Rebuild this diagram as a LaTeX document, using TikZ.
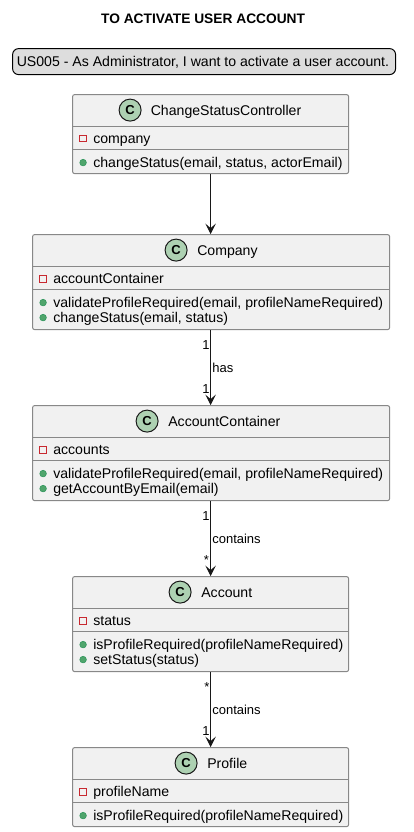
\documentclass[tikz,border=0pt]{standalone}
\usepackage{fontspec}
\setmainfont{Liberation Sans}
\usetikzlibrary{arrows.meta}
\definecolor{boxfill}{HTML}{F1F1F1}
\definecolor{boxline}{HTML}{888888}
\definecolor{spotfill}{HTML}{ADD1B2}
\definecolor{darkline}{HTML}{181818}
\definecolor{privred}{HTML}{C82930}
\definecolor{pubfill}{HTML}{84BE84}
\definecolor{publine}{HTML}{038048}
\definecolor{legendfill}{HTML}{DDDDDD}
\tikzset{
  x=1pt,y=-1pt,
  classbox/.style={draw=boxline,fill=boxfill,line width=1pt,rounded corners=2pt,inner sep=0pt},
  sepline/.style={draw=boxline,line width=1pt},
  txt/.style={inner sep=0pt,anchor=base west,yshift=-0.8pt,font=\fontsize{14.1}{16}\selectfont,text=black},
  lbl/.style={inner sep=0pt,anchor=base west,yshift=-0.8pt,font=\fontsize{13}{15}\selectfont,text=black},
  spot/.style={circle,draw=darkline,fill=spotfill,line width=1pt,minimum size=22pt,inner sep=0pt},
  spotc/.style={inner sep=0pt,font=\fontsize{13}{15}\bfseries\selectfont,text=black},
  privmark/.style={draw=privred,line width=1pt,fill=none},
  pubmark/.style={circle,draw=publine!65!pubfill,fill=pubfill!60!publine,line width=.6pt,minimum size=6.6pt,inner sep=0pt},
  conn/.style={draw=darkline,line width=1pt,-{Stealth[length=10.5pt,width=10.5pt,inset=4.5pt]}}
}
% name, left, right, top, hline1, hline2, bottom, spot x, title x
\newcommand{\classbase}[9]{%
  \node[classbox,minimum width={#3-#2},minimum height={#7-#4},anchor=north west] (#1) at (#2,#4) {};
  \draw[sepline] (#2,#5) -- (#3,#5);
  \draw[sepline] (#2,#6) -- (#3,#6);
  \node[spot] (#1spot) at (#8,#4+16) {};
  \node[spotc] (#1c) at (#8,#4+16) {C};
}
\newcommand{\privitem}[4]{%
  \draw[privmark] (#2-3.2,#3-7) rectangle (#2+3.2,#3-0.6);
  \node[txt] (#1) at (#2+10,#3) {#4};
}
\newcommand{\pubitem}[4]{%
  \node[pubmark] (#1m) at (#2,#3-4) {};
  \node[txt] (#1) at (#2+10,#3) {#4};
}
\newcommand{\classname}[4]{\node[txt] (#1) at (#2,#3) {#4};}
\begin{document}
\begin{tikzpicture}
\useasboundingbox (0.4,0.4) rectangle (414.4,832.4);
\node[inner sep=0pt,anchor=base,yshift=-0.8pt,font=\fontsize{13.75}{16}\bfseries\selectfont] (title) at (203.5,23) {TO ACTIVATE USER ACCOUNT};
\node[draw=black,fill=legendfill,line width=1pt,rounded corners=6pt,minimum width=383pt,minimum height=26pt,inner sep=0pt,anchor=north west] (legend) at (12.5,48.5) {};
\node[txt] (legendtext) at (17,66) {US005 - As Administrator, I want to activate a user account.};

\classbase{ctrl}{72.5}{348.5}{94.5}{126.5}{149.5}{173.5}{130.5}{151}
\classname{ctrlname}{151}{115}{ChangeStatusController}
\privitem{ctrla}{83.5}{143}{company}
\pubitem{ctrlm}{83.5}{167}{changeStatus(email, status, actorEmail)}

\classbase{comp}{32.5}{389.5}{234.5}{266.5}{289.5}{329.5}{176.5}{197.5}
\classname{compname}{197.5}{255}{Company}
\privitem{compa}{43.5}{283}{accountContainer}
\pubitem{compm}{43.5}{307}{validateProfileRequired(email, profileNameRequired)}
\pubitem{compn}{43.5}{322}{changeStatus(email, status)}

\classbase{cont}{32.5}{389.5}{405.5}{437.5}{460.5}{500.5}{147.5}{168.5}
\classname{contname}{168.5}{426}{AccountContainer}
\privitem{conta}{43.5}{454}{accounts}
\pubitem{contm}{43.5}{478}{validateProfileRequired(email, profileNameRequired)}
\pubitem{contn}{43.5}{493}{getAccountByEmail(email)}

\classbase{acct}{72.5}{348.5}{576.5}{608.5}{631.5}{671.5}{180.5}{201.5}
\classname{acctname}{201.5}{597}{Account}
\privitem{accta}{83.5}{625}{status}
\pubitem{acctm}{83.5}{649}{isProfileRequired(profileNameRequired)}
\pubitem{acctn}{83.5}{664}{setStatus(status)}

\classbase{prof}{72.5}{348.5}{747.5}{779.5}{802.5}{826.5}{186.5}{207.5}
\classname{profname}{207.5}{768}{Profile}
\privitem{profa}{83.5}{796}{profileName}
\pubitem{profm}{83.5}{820}{isProfileRequired(profileNameRequired)}

\draw[conn] (ctrl.south) -- (ctrl.south |- comp.north);
\draw[conn] (ctrl.south |- comp.south) -- (ctrl.south |- cont.north);
\draw[conn] (ctrl.south |- cont.south) -- (ctrl.south |- acct.north);
\draw[conn] (acct.south) -- (acct.south |- prof.north);

\node[lbl] (l1a) at (202.5,349) {1};
\node[lbl] (l1b) at (212.5,372) {has};
\node[lbl] (l1c) at (202.5,393) {1};
\node[lbl] (l2a) at (202.5,520) {1};
\node[lbl] (l2b) at (212.5,543) {contains};
\node[lbl] (l2c) at (204,564) {*};
\node[lbl] (l3a) at (204.5,691) {*};
\node[lbl] (l3b) at (212.5,714) {contains};
\node[lbl] (l3c) at (202.5,735) {1};
\end{tikzpicture}
\end{document}
